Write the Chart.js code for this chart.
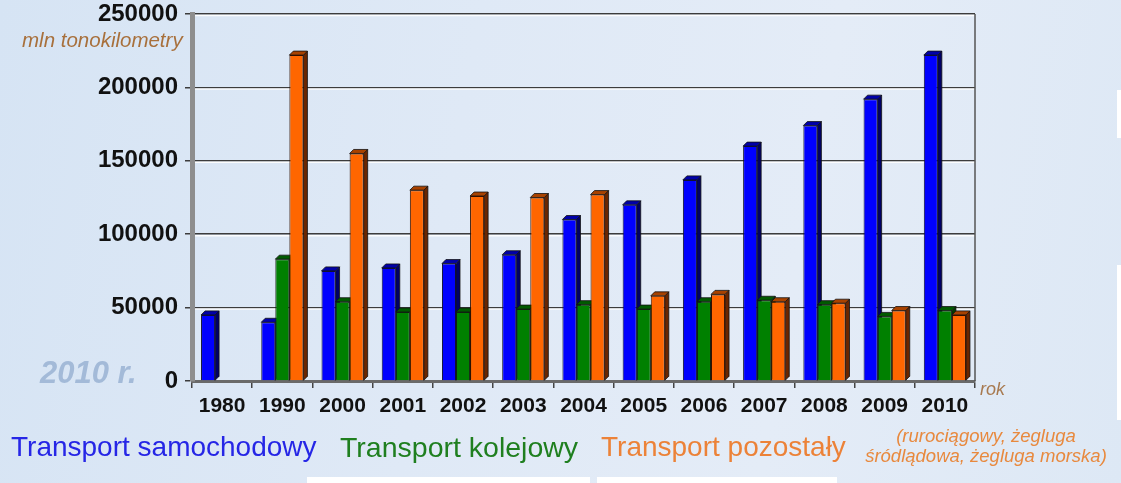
<!DOCTYPE html>
<html>
<head>
<meta charset="utf-8">
<script src="https://cdn.jsdelivr.net/npm/chart.js@4"></script>
<style>
  html, body { margin:0; padding:0; width:1121px; height:483px; overflow:hidden; }
  body { background: linear-gradient(100deg, #d6e4f4 0%, #dfe9f6 40%, #e4ecf7 70%, #dde8f5 100%); position:relative; font-family:"Liberation Sans", Arial, sans-serif; }
  #wrap { position:absolute; left:0; top:0; width:1121px; height:483px; }
  .t { position:absolute; white-space:nowrap; line-height:1; }
  .w { position:absolute; background:#ffffff; }
</style>
</head>
<body>
<div class="w" style="left:1117px;top:90px;width:4px;height:48px"></div>
<div class="w" style="left:1117px;top:265px;width:4px;height:155px"></div>
<div class="w" style="left:307px;top:477px;width:283px;height:6px"></div>
<div class="w" style="left:597px;top:477px;width:240px;height:6px"></div>
<div id="wrap"><canvas id="c" width="1121" height="483"></canvas></div>

<div class="t" style="left:22px;top:30px;font-size:20.5px;font-style:italic;color:#a8703c;">mln tonokilometry</div>
<div class="t" style="left:40px;top:357px;font-size:31px;font-style:italic;font-weight:bold;color:#a3bad8;">2010 r.</div>
<div class="t" style="left:980px;top:380px;font-size:18px;font-style:italic;color:#a87a50;">rok</div>

<div class="t" style="left:11px;top:433px;font-size:28px;color:#2626e6;">Transport samochodowy</div>
<div class="t" style="left:340px;top:433px;font-size:28.5px;color:#1f7f1f;">Transport kolejowy</div>
<div class="t" style="left:601px;top:433px;font-size:28px;color:#ec8238;">Transport pozostały</div>
<div class="t" style="left:861px;top:426px;width:250px;font-size:18.5px;font-style:italic;color:#e8893e;text-align:center;line-height:20px;">(rurociągowy, żegluga<br>śródlądowa, żegluga morska)</div>

<script>
// ---- data ----
const years = ['1980','1990','2000','2001','2002','2003','2004','2005','2006','2007','2008','2009','2010'];
const samochodowy = [45000, 40000, 75000, 77000, 80000, 86000, 110000, 120000, 137000, 160000, 174000, 192000, 222000];
const kolejowy    = [null, 83000, 54000, 47000, 47000, 49000, 52000, 49000, 54000, 55000, 52000, 44000, 48000];
const pozostaly   = [null, 222000, 155000, 130000, 126000, 125000, 127000, 58000, 59000, 54000, 53000, 48000, 45000];
const yTicks = [0, 50000, 100000, 150000, 200000, 250000];

const sideColors = ['#000066', '#003c00', '#6a2600'];
const topColors  = ['#0000a8', '#005a00', '#a84200'];
const DEPTH = 4;

const bar3d = {
  id: 'bar3d',
  beforeDatasetsDraw(chart) {
    const ctx = chart.ctx;
    const a = chart.chartArea;
    const ys = chart.scales.y;
    ctx.save();
    ctx.strokeStyle = 'rgba(255,255,255,0.9)';
    ctx.lineWidth = 1.5;
    ys.ticks.forEach(t => {
      if (t.value === 0) return;
      const py = ys.getPixelForValue(t.value) + 1.5;
      ctx.beginPath(); ctx.moveTo(a.left + 3, py); ctx.lineTo(a.right, py); ctx.stroke();
    });
    const n = chart.data.labels.length;
    for (let i = 0; i < n; i++) {
      chart.data.datasets.forEach((ds, di) => {
        if (ds.data[i] == null) return;
        const el = chart.getDatasetMeta(di).data[i];
        const p = el.getProps(['x','y','base','width'], true);
        const l = p.x - p.width/2, r = p.x + p.width/2, t = p.y, b = p.base;
        ctx.strokeStyle = '#111';
        ctx.lineWidth = 0.8;
        ctx.fillStyle = sideColors[di];
        ctx.beginPath();
        ctx.moveTo(r, t); ctx.lineTo(r + DEPTH, t - DEPTH); ctx.lineTo(r + DEPTH, b - DEPTH); ctx.lineTo(r, b); ctx.closePath();
        ctx.fill(); ctx.stroke();
        ctx.fillStyle = topColors[di];
        ctx.beginPath();
        ctx.moveTo(l, t); ctx.lineTo(l + DEPTH, t - DEPTH); ctx.lineTo(r + DEPTH, t - DEPTH); ctx.lineTo(r, t); ctx.closePath();
        ctx.fill(); ctx.stroke();
      });
    }
    ctx.restore();
  },
  afterDraw(chart) {
    const {ctx, chartArea:a} = chart;
    ctx.save();
    ctx.strokeStyle = '#555';
    ctx.lineWidth = 1.5;
    ctx.beginPath();
    ctx.moveTo(a.right, a.top); ctx.lineTo(a.right, a.bottom);
    ctx.stroke();
    ctx.restore();
  }
};

new Chart(document.getElementById('c'), {
  type: 'bar',
  data: {
    labels: years,
    datasets: [
      { label: 'Transport samochodowy', data: samochodowy, backgroundColor: '#0000ff', borderColor: '#101030', borderWidth: 1 },
      { label: 'Transport kolejowy', data: kolejowy, backgroundColor: '#008000', borderColor: '#102010', borderWidth: 1 },
      { label: 'Transport pozostały', data: pozostaly, backgroundColor: '#ff6600', borderColor: '#301000', borderWidth: 1 }
    ]
  },
  options: {
    responsive: false,
    animation: false,
    devicePixelRatio: 1,
    categoryPercentage: 0.7,
    barPercentage: 1.0,
    layout: { padding: { left: 0, right: 146, top: 14, bottom: 0 } },
    plugins: { legend: { display: false }, tooltip: { enabled: false } },
    scales: {
      x: {
        grid: { display: true, drawOnChartArea: false, drawTicks: true, tickLength: 7, color: '#444', lineWidth: 1.5, offset: true },
        border: { display: true, color: '#6a6a6a', width: 3 },
        ticks: { color: '#111', font: { family: 'Liberation Sans', weight: 'bold', size: 21 }, padding: 6, maxRotation: 0, autoSkip: false },
        afterFit(s) { s.height = 102; s.paddingLeft = 0; s.paddingRight = 0; }
      },
      y: {
        min: 0, max: 250000,
        afterBuildTicks(s) { s.ticks = yTicks.map(v => ({ value: v })); },
        grid: { color: '#3c3c3c', lineWidth: 1.5, drawTicks: true, tickLength: 7 },
        border: { display: true, color: '#8e8e8e', width: 5 },
        ticks: { color: '#111', font: { family: 'Liberation Sans', weight: 'bold', size: 24 }, padding: 7, callback: v => String(v) },
        afterFit(s) { s.width = 192; s.paddingTop = 0; s.paddingBottom = 0; }
      }
    }
  },
  plugins: [bar3d]
});
</script>
</body>
</html>
